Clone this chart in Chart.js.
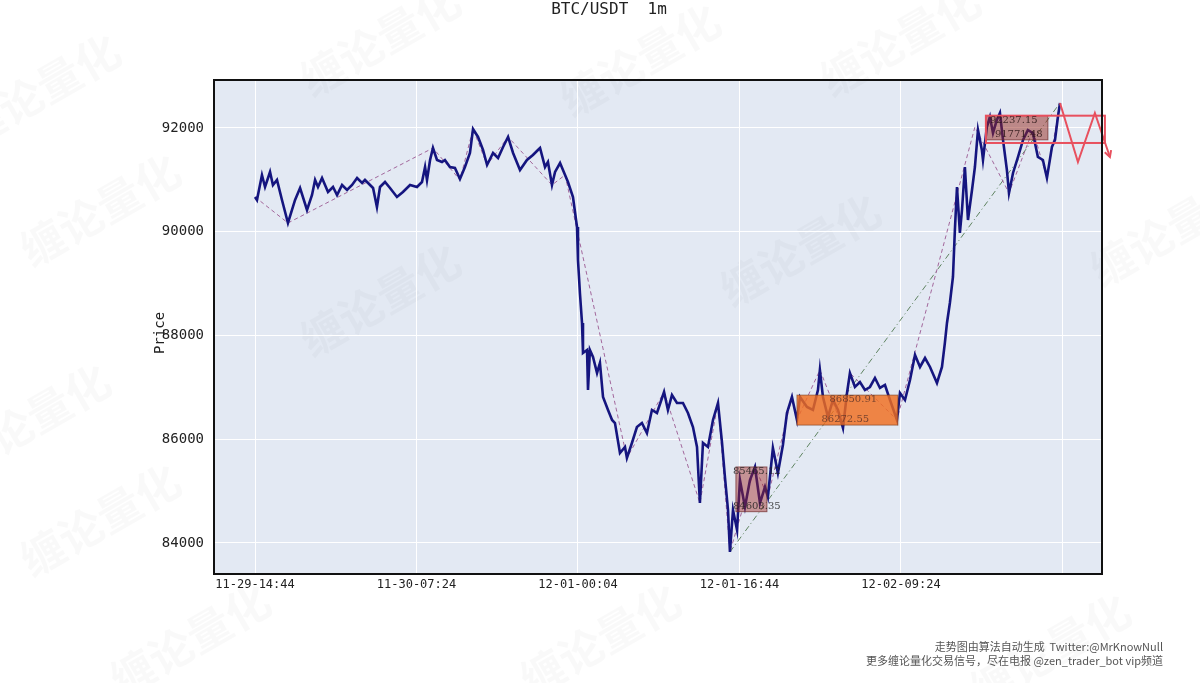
<!DOCTYPE html>
<html><head><meta charset="utf-8">
<script src="https://cdn.jsdelivr.net/npm/chart.js@4/dist/chart.umd.min.js"></script>
<style>html,body{margin:0;padding:0;background:#fff}canvas{display:block}</style>
</head><body>
<canvas id="c" width="1200" height="683"></canvas>
<script>
// ---- data (x = minutes since 11-29 14:44, y = price) ----
const priceMinutes = [0,12,43,62,93,111,136,167,204,248,279,322,353,372,390,415,452,483,508,539,570,601,632,663,681,700,731,755,774,805,836,879,916,960,1003,1034,1053,1065,1084,1102,1127,1158,1176,1207,1238,1269,1300,1331,1350,1381,1412,1437,1474,1505,1536,1567,1598,1641,1684,1721,1752,1765,1796,1814,1839,1858,1889,1920,1938,1969,1994,2000,2012,2025,2031,2056,2062,2074,2093,2118,2136,2155,2186,2211,2229,2260,2291,2303,2334,2365,2396,2427,2458,2489,2533,2557,2582,2613,2650,2681,2712,2737,2755,2774,2805,2836,2867,2892,2910,2929,2941,2960,2985,3003,3034,3065,3096,3127,3158,3176,3207,3238,3269,3294,3325,3356,3375,3418,3455,3486,3498,3517,3548,3579,3610,3641,3666,3684,3715,3746,3777,3808,3839,3870,3901,3932,3975,3994,4025,4056,4087,4118,4149,4180,4223,4254,4272,4285,4303,4322,4334,4347,4365,4378,4396,4415,4440,4458,4477,4501,4508,4532,4551,4570,4594,4613,4632,4656,4669,4694,4725,4756,4786,4817,4848,4879,4904,4935,4954,4972,4985];
const priceValues = [90670,90612,91094,90863,91152,90901,90998,90612,90169,90612,90843,90419,90708,90998,90863,91036,90766,90863,90708,90901,90805,90901,91036,90940,90998,90940,90843,90477,90863,90959,90843,90670,90766,90901,90863,90959,91248,90998,91383,91614,91383,91345,91383,91248,91229,91017,91248,91518,91981,91827,91576,91287,91518,91422,91634,91827,91518,91190,91383,91480,91576,91614,91248,91345,90901,91152,91325,91094,90959,90670,90092,89455,88819,88241,87663,87720,86949,87720,87586,87277,87470,86815,86564,86371,86313,85735,85851,85639,85928,86236,86313,86120,86564,86506,86911,86564,86853,86699,86699,86506,86236,85851,84771,85928,85851,86371,86699,85928,85272,84636,83827,84636,84251,85214,84694,85214,85465,84771,85080,84887,85831,85350,85889,86506,86815,86371,86815,86622,86564,86949,87335,86815,86429,86757,86564,86217,86892,87277,87007,87104,86949,87007,87181,86988,87046,86757,86371,86892,86757,87142,87624,87393,87566,87393,87084,87393,87856,88241,88627,89128,90034,90863,89976,90419,91248,90227,90805,91248,91961,91576,91383,92019,92212,91904,92154,92289,91769,91190,90747,91133,91441,91769,91961,91904,91441,91383,91036,91634,91769,92212,92482];

const strokeMinutes = [0,204,1102,1269,1350,1437,1567,1839,1920,2303,2533,2755,2867,2941,3096,3176,3325,3356,3498,3641,3684,3975,4458,4669,4817,4904,4985];
const strokeValues  = [90670,90169,91614,90998,91981,91287,91827,90901,91094,85639,86911,84771,86699,83827,85465,84887,86815,86371,87335,86217,87277,86371,92019,90747,91961,91036,92482];

const segMinutes = [2941,4985];
const segValues  = [83827,92482];

const projMinutes = [4985,5096,5201,5294];
const projValues  = [92482,91345,92289,91441];

// zones: [startMin, endMin, low, high]
const zoneSmall  = [2978,3170,84603.35,85465.12];
const zoneOrange = [3356,3981,86272.55,86850.91];
const zoneTop    = [4526,4910,91771.48,92237.15];
const zoneProj   = [4526,5263,91711,92237.15];

const xTickValues = [0,1000,2000,3000,4000,5000];
const xTickLabels = ['11-29-14:44','11-30-07:24','12-01-00:04','12-01-16:44','12-02-09:24',''];
const yTickValues = [84000,86000,88000,90000,92000];

const titleText = 'BTC/USDT  1m';
const footer1 = '走势图由算法自动生成  Twitter:@MrKnowNull';
const footer2 = '更多缠论量化交易信号，尽在电报 @zen_trader_bot vip频道';
const watermark = '缠论量化';

const pts = (xs, ys) => xs.map((x,i)=>({x, y: ys[i]}));
const MONO = '"DejaVu Sans Mono", monospace';

const deco = {
  id: 'deco',
  beforeDraw(chart) {
    const {ctx, chartArea: a} = chart;
    ctx.save();
    ctx.fillStyle = '#ffffff';
    ctx.fillRect(0,0,chart.width,chart.height);
    ctx.fillStyle = '#E3E9F3';
    ctx.fillRect(a.left, a.top, a.right-a.left, a.bottom-a.top);
    // watermarks
    ctx.fillStyle = 'rgba(0,0,0,0.025)';
    ctx.font = 'bold 44px "Noto Sans CJK SC"';
    const wm = [[40,90],[380,40],[640,60],[900,40],[1170,230],[100,210],[30,420],[100,520],[190,640],[600,640],[1050,650],[380,300],[800,250]];
    wm.forEach(([x,y])=>{ctx.save();ctx.translate(x,y);ctx.rotate(-Math.PI/6);ctx.textAlign='center';ctx.textBaseline='middle';ctx.fillText(watermark,0,0);ctx.restore();});
    ctx.restore();
  },
  afterDatasetsDraw(chart) {
    const {ctx, scales:{x,y}, chartArea: a} = chart;
    const rect = (z, fill, stroke, lw) => {
      const x0 = x.getPixelForValue(z[0]), x1 = x.getPixelForValue(z[1]);
      const y0 = y.getPixelForValue(z[3]), y1 = y.getPixelForValue(z[2]);
      if (fill) { ctx.fillStyle = fill; ctx.fillRect(x0,y0,x1-x0,y1-y0); }
      if (stroke) { ctx.strokeStyle = stroke; ctx.lineWidth = lw; ctx.strokeRect(x0,y0,x1-x0,y1-y0); }
      return {x0,x1,y0,y1};
    };
    ctx.save();
    ctx.beginPath();
    ctx.rect(a.left, a.top-20, a.right-a.left+12, a.bottom-a.top+20);
    ctx.clip();
    const s = rect(zoneSmall, 'rgba(160,40,35,0.45)', 'rgba(110,40,40,0.7)', 1);
    const o = rect(zoneOrange, 'rgba(240,110,30,0.82)', 'rgba(120,60,30,0.6)', 1);
    const t = rect(zoneTop, 'rgba(150,40,30,0.5)', 'rgba(110,40,40,0.7)', 1);
    rect(zoneProj, null, '#E8505E', 2);
    ctx.font = '10px "DejaVu Serif", serif';
    ctx.fillStyle = 'rgba(30,30,30,0.85)';
    ctx.textBaseline = 'middle';
    ctx.textAlign = 'left';
    ctx.fillText(zoneSmall[3].toFixed(2), s.x0-3, s.y0+4);
    ctx.fillText(zoneSmall[2].toFixed(2), s.x0-3, s.y1-5);
    ctx.fillStyle = 'rgba(90,50,40,0.8)';
    ctx.fillText(zoneOrange[3].toFixed(2), (o.x0+o.x1)/2-18, o.y0+4);
    ctx.fillText(zoneOrange[2].toFixed(2), (o.x0+o.x1)/2-26, o.y1-6);
    ctx.fillStyle = 'rgba(40,20,20,0.85)';
    ctx.fillText(zoneTop[3].toFixed(2), t.x0+4, t.y0+5);
    ctx.fillText(zoneTop[2].toFixed(2), t.x0+9, t.y1-5);
    // arrow head at projection end
    const n = projMinutes.length;
    const px1 = x.getPixelForValue(projMinutes[n-1]), py1 = y.getPixelForValue(projValues[n-1]);
    const px0 = x.getPixelForValue(projMinutes[n-2]), py0 = y.getPixelForValue(projValues[n-2]);
    const ang = Math.atan2(py1-py0, px1-px0);
    ctx.strokeStyle = '#E8505E'; ctx.lineWidth = 2;
    ctx.beginPath();
    ctx.moveTo(px1 - 7*Math.cos(ang-0.5), py1 - 7*Math.sin(ang-0.5));
    ctx.lineTo(px1, py1);
    ctx.lineTo(px1 - 7*Math.cos(ang+0.5), py1 - 7*Math.sin(ang+0.5));
    ctx.stroke();
    ctx.restore();
  },
  afterDraw(chart) {
    const {ctx, chartArea: a} = chart;
    ctx.save();
    ctx.strokeStyle = '#111'; ctx.lineWidth = 2;
    ctx.strokeRect(a.left, a.top, a.right-a.left, a.bottom-a.top);
    ctx.fillStyle = '#222';
    ctx.font = '16px ' + MONO;
    ctx.textAlign = 'center'; ctx.textBaseline = 'middle';
    ctx.fillText(titleText, 609, 10);
    ctx.save();
    ctx.translate(160, (a.top+a.bottom)/2 + 6);
    ctx.rotate(-Math.PI/2);
    ctx.font = '14px ' + MONO;
    ctx.fillText('Price', 0, 0);
    ctx.restore();
    ctx.fillStyle = '#555';
    ctx.font = '11px "Noto Sans CJK SC"';
    ctx.textAlign = 'right';
    ctx.fillText(footer1, 1163, 647);
    ctx.fillText(footer2, 1163, 661);
    ctx.restore();
  }
};

new Chart(document.getElementById('c'), {
  type: 'line',
  data: {
    datasets: [
      { data: pts(projMinutes, projValues), borderColor: '#E8505E', borderWidth: 2, pointRadius: 0, tension: 0, order: 0, clip: {left:0, top:5, right:12, bottom:0} },
      { data: pts(priceMinutes, priceValues), borderColor: '#15157F', borderWidth: 2.6, pointRadius: 0, tension: 0, order: 1 },
      { data: pts(strokeMinutes, strokeValues), borderColor: 'rgba(150,80,140,0.85)', borderWidth: 1, borderDash: [4,3], pointRadius: 0, tension: 0, order: 2 },
      { data: pts(segMinutes, segValues), borderColor: 'rgba(80,120,80,0.9)', borderWidth: 1, borderDash: [6,3,1,3], pointRadius: 0, tension: 0, order: 3 }
    ]
  },
  options: {
    responsive: false,
    animation: false,
    events: [],
    layout: { padding: { left: 0, right: 98, top: 80, bottom: 79 } },
    plugins: { legend: { display: false }, tooltip: { enabled: false }, title: { display: false } },
    scales: {
      x: {
        type: 'linear', min: -254, max: 5245,
        afterBuildTicks: s => { s.ticks = xTickValues.map(v => ({value: v})); },
        afterFit: s => { s.height = 30; },
        ticks: { callback: (v) => xTickLabels[xTickValues.indexOf(v)] ?? '', font: { family: MONO, size: 12 }, color: '#222', padding: 4, maxRotation: 0, autoSkip: false },
        grid: { color: '#ffffff', lineWidth: 1, drawTicks: false },
        border: { display: false }
      },
      y: {
        min: 83402, max: 92925,
        afterBuildTicks: s => { s.ticks = yTickValues.map(v => ({value: v})); },
        afterFit: s => { s.width = 214; },
        ticks: { callback: v => String(v), font: { family: MONO, size: 14 }, color: '#222', padding: 10 },
        grid: { color: '#ffffff', lineWidth: 1, drawTicks: false },
        border: { display: false }
      }
    }
  },
  plugins: [deco]
});
</script>
</body></html>
